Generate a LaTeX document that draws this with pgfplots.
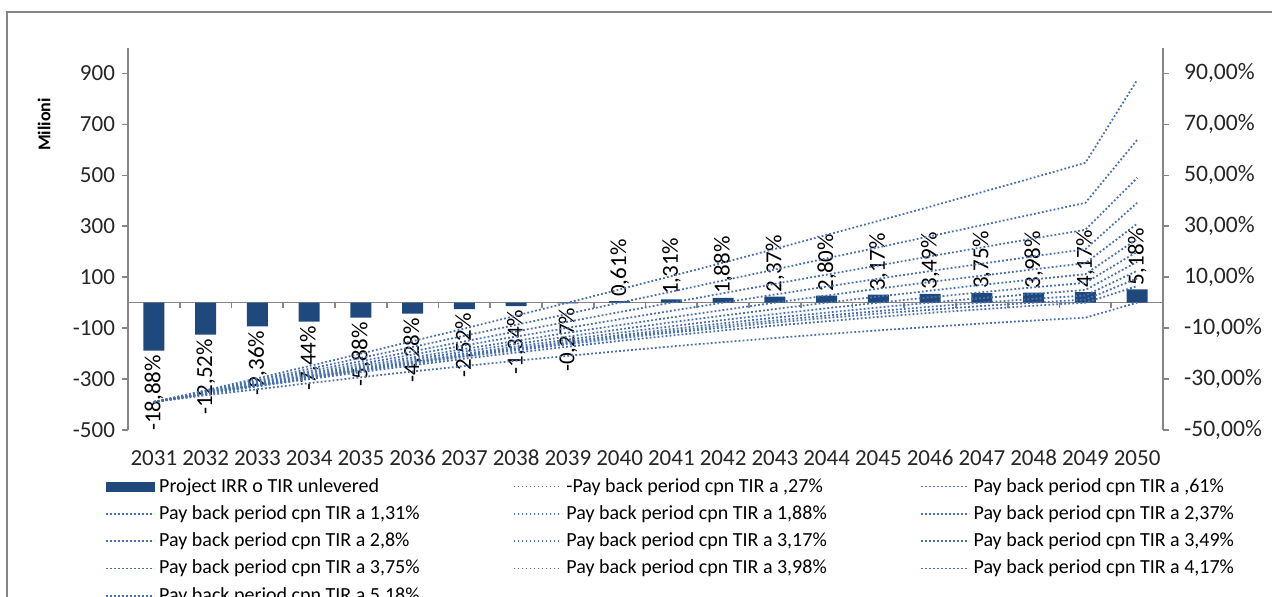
\documentclass[border=0pt]{standalone}
\usepackage{pgfplots}
\usepackage{pgfplotstable}
\pgfplotsset{compat=1.18}
\usepackage{fontspec}
\setmainfont{Carlito}
\definecolor{barblue}{RGB}{31,73,125}
\definecolor{lineblue}{RGB}{72,112,178}
\definecolor{axgray}{RGB}{134,134,134}
\tikzset{ln/.style={lineblue, line width=0.9pt, dash pattern=on 0.9pt off 1.1pt, mark=none}}

\pgfplotstableread{
x y lab
0 -18.88 -18,88\%
1 -12.52 -12,52\%
2 -9.36 -9,36\%
3 -7.44 -7,44\%
4 -5.88 -5,88\%
5 -4.28 -4,28\%
6 -2.52 -2,52\%
7 -1.34 -1,34\%
8 -0.27 -0,27\%
}\barneg
\pgfplotstableread{
x y lab
9 0.61 0,61\%
10 1.31 1,31\%
11 1.88 1,88\%
12 2.37 2,37\%
13 2.80 2,80\%
14 3.17 3,17\%
15 3.49 3,49\%
16 3.75 3,75\%
17 3.98 3,98\%
18 4.17 4,17\%
19 5.18 5,18\%
}\barpos
\pgfplotstableread{
x k0 k1 k2 k3 k4 k5 k6 k7 k8 k9 k10 k11
0 -390 -390 -390 -390 -390 -390 -390 -390 -390 -390 -390 -390
1 -344 -347 -349 -352 -353 -355 -356 -357 -357 -357 -359 -364
2 -297 -304 -309 -314 -318 -321 -323 -325 -325 -326 -329 -340
3 -249 -260 -269 -276 -283 -287 -291 -293 -294 -296 -300 -316
4 -200 -217 -230 -240 -248 -255 -260 -263 -265 -267 -273 -293
5 -151 -174 -191 -204 -215 -223 -230 -234 -236 -239 -246 -270
6 -102 -130 -152 -168 -182 -192 -201 -206 -209 -212 -220 -249
7 -51 -87 -113 -133 -150 -162 -172 -179 -183 -187 -196 -228
8 0 -44 -75 -99 -118 -133 -145 -153 -158 -163 -173 -209
9 52 0 -37 -65 -88 -105 -118 -128 -134 -140 -150 -190
10 104 43 0 -32 -58 -77 -93 -104 -112 -118 -129 -172
11 157 87 37 0 -29 -51 -68 -81 -90 -98 -109 -155
12 211 130 74 32 0 -25 -45 -59 -70 -78 -90 -139
13 266 174 110 63 28 0 -22 -39 -51 -60 -73 -123
14 321 217 146 94 55 24 0 -19 -33 -43 -56 -109
15 377 261 182 124 81 47 21 0 -16 -28 -40 -95
16 434 304 217 153 106 70 41 18 0 -13 -26 -82
17 491 348 252 182 131 91 60 34 15 0 -12 -70
18 549 392 286 210 155 112 78 50 28 12 0 -59
19 874 639 490 392 310 250 200 160 125 95 65 0
}\lines

\begin{document}
\begin{tikzpicture}
\path[use as bounding box] (0,0) rectangle (636pt,298.5pt);
\draw[axgray, line width=0.8pt] (3.5pt,-5pt) -- (3.5pt,292.5pt) -- (640pt,292.5pt);

% bars on the right (percentage) axis
\begin{axis}[
  at={(64pt,83.5pt)}, anchor=south west,
  scale only axis, width=517.5pt, height=191pt,
  xmin=-0.5, xmax=19.5, ymin=-50, ymax=100,
  axis x line=none, axis y line*=right,
  ytick={-50,-30,-10,10,30,50,70,90},
  yticklabels={-50{,}00\%,-30{,}00\%,-10{,}00\%,10{,}00\%,30{,}00\%,50{,}00\%,70{,}00\%,90{,}00\%},
  tick align=outside, major tick length=3pt,
  y axis line style={axgray, line width=0.8pt},
  ytick style={axgray, line width=0.8pt},
  ticklabel style={font=\fontsize{11.8}{12}\selectfont, text=black!85},
  yticklabel style={xshift=4pt},
  extra y ticks={0}, extra y tick labels={},
  extra y tick style={grid=major, major grid style={axgray, line width=0.8pt}, major tick length=0pt},
  clip=false,
]
\addplot[ybar, bar width=10.5pt, bar shift=0pt, fill=barblue, draw=none,
  point meta=explicit symbolic, nodes near coords,
  every node near coord/.append style={rotate=90, anchor=east, inner sep=2pt,
     font=\fontsize{11.5}{12}\selectfont, text=black}]
  table[x=x, y=y, meta=lab] {\barneg};
\addplot[ybar, bar width=10.5pt, bar shift=0pt, fill=barblue, draw=none,
  point meta=explicit symbolic, nodes near coords,
  every node near coord/.append style={rotate=90, anchor=west, inner sep=2pt,
     font=\fontsize{11.5}{12}\selectfont, text=black}]
  table[x=x, y=y, meta=lab] {\barpos};
\pgfplotsinvokeforeach{0.5,1.5,...,18.5}{
  \draw[axgray, line width=0.8pt] (axis cs:#1,0) -- ++(0pt,-2.5pt);
}
\end{axis}

% lines on the left (Milioni) axis
\begin{axis}[
  at={(64pt,83.5pt)}, anchor=south west,
  scale only axis, width=517.5pt, height=191pt,
  xmin=-0.5, xmax=19.5, ymin=-500, ymax=1000,
  axis y line*=left, axis x line*=bottom,
  x axis line style={draw=none},
  xtick={0,...,19},
  xticklabels={2031,2032,2033,2034,2035,2036,2037,2038,2039,2040,2041,2042,2043,2044,2045,2046,2047,2048,2049,2050},
  xtick style={draw=none},
  xticklabel style={yshift=-2.5pt, text height=8.5pt, text depth=0pt},
  ytick={-500,-300,-100,100,300,500,700,900},
  yticklabels={-500,-300,-100,100,300,500,700,900},
  tick align=outside, major tick length=3pt,
  y axis line style={axgray, line width=0.8pt},
  ytick style={axgray, line width=0.8pt},
  ticklabel style={font=\fontsize{11.5}{12}\selectfont, text=black!85},
  ylabel={\textbf{Milioni}},
  every axis y label/.style={at={(axis description cs:-0.068,0.8)}, rotate=90, anchor=south, font=\fontsize{9}{10}\selectfont},
  legend image code/.code={\draw[#1] (0pt,0pt) -- (24pt,0pt);},
  legend columns=3,
  legend cell align=left,
  legend style={at={(axis description cs:-0.0222,-0.1145)}, anchor=north west,
     draw=none, fill=none, inner sep=0pt, row sep=1.2pt,
     font=\fontsize{10}{11}\selectfont,
     /tikz/every even column/.append style={column sep=44.5pt}},
]
\addlegendimage{legend image code/.code={\fill[barblue] (0pt,-2.2pt) rectangle (24pt,2.2pt);}}
\addlegendentry{Project IRR o TIR unlevered}
\addplot[ln] table[x=x, y=k0] {\lines};  \addlegendentry{-Pay back period cpn TIR a ,27\%}
\addplot[ln] table[x=x, y=k1] {\lines};  \addlegendentry{Pay back period cpn TIR a ,61\%}
\addplot[ln] table[x=x, y=k2] {\lines};  \addlegendentry{Pay back period cpn TIR a 1,31\%}
\addplot[ln] table[x=x, y=k3] {\lines};  \addlegendentry{Pay back period cpn TIR a 1,88\%}
\addplot[ln] table[x=x, y=k4] {\lines};  \addlegendentry{Pay back period cpn TIR a 2,37\%}
\addplot[ln] table[x=x, y=k5] {\lines};  \addlegendentry{Pay back period cpn TIR a 2,8\%}
\addplot[ln] table[x=x, y=k6] {\lines};  \addlegendentry{Pay back period cpn TIR a 3,17\%}
\addplot[ln] table[x=x, y=k7] {\lines};  \addlegendentry{Pay back period cpn TIR a 3,49\%}
\addplot[ln] table[x=x, y=k8] {\lines};  \addlegendentry{Pay back period cpn TIR a 3,75\%}
\addplot[ln] table[x=x, y=k9] {\lines};  \addlegendentry{Pay back period cpn TIR a 3,98\%}
\addplot[ln] table[x=x, y=k10] {\lines}; \addlegendentry{Pay back period cpn TIR a 4,17\%}
\addplot[ln] table[x=x, y=k11] {\lines}; \addlegendentry{Pay back period cpn TIR a 5,18\%}
\end{axis}
\end{tikzpicture}
\end{document}
